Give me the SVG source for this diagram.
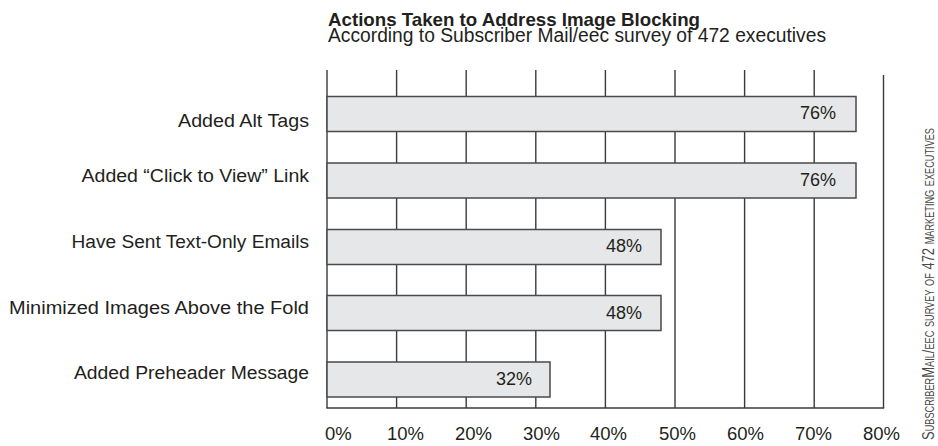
<svg xmlns="http://www.w3.org/2000/svg" width="938" height="446" viewBox="0 0 938 446">
<style>
text{font-family:"Liberation Sans",Arial,sans-serif;fill:#231f20}
.title{font-size:19px;font-weight:bold}
.sub{font-size:19.5px}
.cat{font-size:18px;text-anchor:end}
.val{font-size:18px;text-anchor:end}
.tick{font-size:18.5px}
.grid{stroke:#3a3a3a;stroke-width:1.4;fill:none}
.bar{fill:#e6e7e8;stroke:#4a4a4a;stroke-width:1.5}
.side{font-size:17px;font-variant:small-caps;fill:#4a4a4a}
</style>
<rect width="938" height="446" fill="#ffffff"/>
<g id="title">
<text class="title" x="328" y="26" textLength="372" lengthAdjust="spacingAndGlyphs">Actions Taken to Address Image Blocking</text>
<text class="sub" x="328" y="42" textLength="498" lengthAdjust="spacingAndGlyphs">According to Subscriber Mail/eec survey of 472 executives</text>
</g>
<g id="grid">
<line class="grid" x1="327" y1="70" x2="327" y2="408"/>
<line class="grid" x1="396.6" y1="70" x2="396.6" y2="408"/>
<line class="grid" x1="466.2" y1="70" x2="466.2" y2="408"/>
<line class="grid" x1="535.8" y1="70" x2="535.8" y2="408"/>
<line class="grid" x1="605.4" y1="70" x2="605.4" y2="408"/>
<line class="grid" x1="675" y1="70" x2="675" y2="408"/>
<line class="grid" x1="744.6" y1="70" x2="744.6" y2="408"/>
<line class="grid" x1="814.2" y1="70" x2="814.2" y2="408"/>
<line class="grid" x1="883.5" y1="75" x2="883.5" y2="408"/>
<line class="grid" x1="326.3" y1="408" x2="884.2" y2="408"/>
</g>
<g id="bar1">
<rect class="bar" x="327" y="96.5" width="529" height="35"/>
<text class="cat" x="309" y="126.5" textLength="131" lengthAdjust="spacingAndGlyphs">Added Alt Tags</text>
<text class="val" x="836" y="119">76%</text>
</g>
<g id="bar2">
<rect class="bar" x="327" y="163" width="529" height="35"/>
<text class="cat" x="309" y="181.5" textLength="227.5" lengthAdjust="spacingAndGlyphs">Added “Click to View” Link</text>
<text class="val" x="836" y="186">76%</text>
</g>
<g id="bar3">
<rect class="bar" x="327" y="229.5" width="334" height="35"/>
<text class="cat" x="309" y="248" textLength="237.5" lengthAdjust="spacingAndGlyphs">Have Sent Text-Only Emails</text>
<text class="val" x="642" y="252">48%</text>
</g>
<g id="bar4">
<rect class="bar" x="327" y="295.5" width="334" height="35"/>
<text class="cat" x="309" y="314" textLength="300" lengthAdjust="spacingAndGlyphs">Minimized Images Above the Fold</text>
<text class="val" x="642" y="318.5">48%</text>
</g>
<g id="bar5">
<rect class="bar" x="327" y="362" width="223" height="35"/>
<text class="cat" x="309" y="379" textLength="235" lengthAdjust="spacingAndGlyphs">Added Preheader Message</text>
<text class="val" x="532" y="385">32%</text>
</g>
<g id="axis-labels">
<text class="tick" x="325" y="440">0%</text>
<text class="tick" x="387" y="440">10%</text>
<text class="tick" x="455" y="440">20%</text>
<text class="tick" x="523" y="440">30%</text>
<text class="tick" x="590" y="440">40%</text>
<text class="tick" x="659" y="440">50%</text>
<text class="tick" x="727" y="440">60%</text>
<text class="tick" x="795" y="440">70%</text>
<text class="tick" x="863" y="440">80%</text>
</g>
<g id="source">
<text class="side" transform="translate(933.5,440) rotate(-90)" x="0" y="0" textLength="312" lengthAdjust="spacingAndGlyphs">SubscriberMail/eec survey of 472 marketing executives</text>
</g>
</svg>
